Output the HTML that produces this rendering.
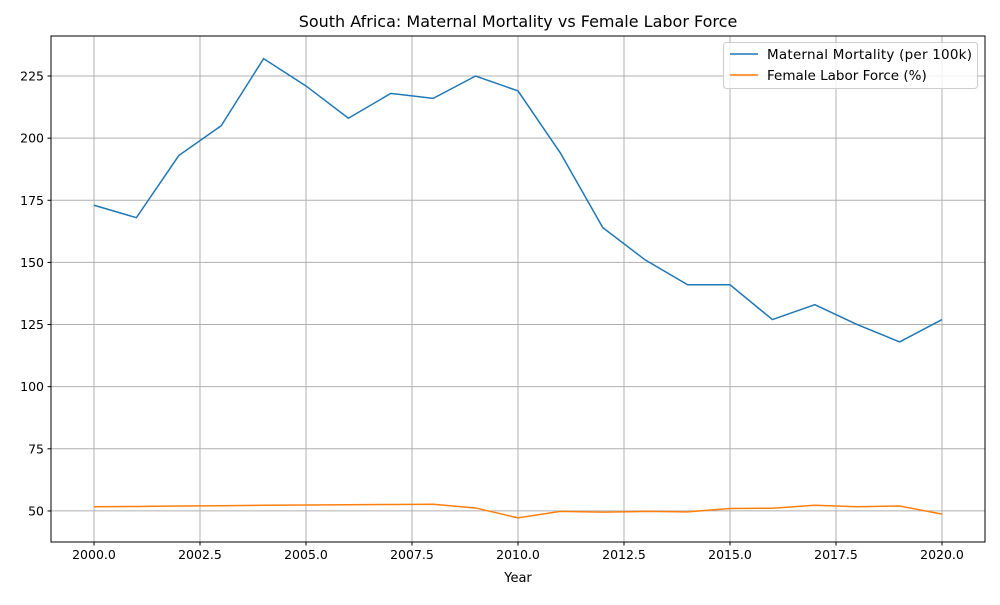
<!DOCTYPE html>
<html><head><meta charset="utf-8"><style>
body{margin:0;background:#fff;font-family:"Liberation Sans","DejaVu Sans",sans-serif;}
svg text{font-family:"DejaVu Sans","Liberation Sans",sans-serif;}
</style></head><body>
<svg id="chart" width="1000" height="600">
<text x="518" y="27" font-size="16" text-anchor="middle">South Africa: Maternal Mortality vs Female Labor Force</text>
<g id="grid"></g>
<g id="series"></g>
<rect x="51" y="36" width="934" height="506" fill="none" stroke="#000" stroke-width="1"/>
<g id="ticks"></g>
<text x="518" y="582" font-size="13" text-anchor="middle">Year</text>
<g>
<rect x="723.5" y="42.5" width="254" height="46" rx="3" fill="#fff" fill-opacity="0.8" stroke="#ccc"/>
<line x1="730" y1="54" x2="758" y2="54" stroke="#1f77b4" stroke-width="1.5"/>
<text x="767" y="59" font-size="13.5" textLength="205">Maternal Mortality (per 100k)</text>
<line x1="730" y1="75" x2="758" y2="75" stroke="#ff7f0e" stroke-width="1.5"/>
<text x="767" y="80" font-size="13.5">Female Labor Force (%)</text>
</g>
</svg>
<script>
const years=[2000,2001,2002,2003,2004,2005,2006,2007,2008,2009,2010,2011,2012,2013,2014,2015,2016,2017,2018,2019,2020];
const mortality=[173,168,193,205,232,221,208,218,216,225,219,194,164,151,141,141,127,133,125,118,127];
const labor=[51.7,51.8,52.0,52.1,52.3,52.4,52.5,52.6,52.7,51.2,47.2,49.8,49.5,49.8,49.6,51.0,51.1,52.3,51.7,52.0,48.7];
const xTicks=[2000,2002.5,2005,2007.5,2010,2012.5,2015,2017.5,2020];
const yTicks=[50,75,100,125,150,175,200,225];
const NS="http://www.w3.org/2000/svg";
const X0=1998.986,X1=2021.014,Y0=37.5,Y1=241.1,L=51,R=985,T=36,B=542;
const sx=v=>L+(v-X0)/(X1-X0)*(R-L);
const sy=v=>B-(v-Y0)/(Y1-Y0)*(B-T);
function mk(tag,attrs,parent){const e=document.createElementNS(NS,tag);for(const k in attrs)e.setAttribute(k,attrs[k]);parent.appendChild(e);return e;}
const grid=document.getElementById('grid'),ticks=document.getElementById('ticks'),series=document.getElementById('series');
xTicks.forEach(t=>{const x=sx(t);
 const g=mk('line',{x1:x,x2:x,y1:T,y2:B,stroke:'#b0b0b0','stroke-width':1},grid);
 
 
 mk('line',{x1:x,x2:x,y1:B,y2:B+3.5,stroke:'#000'},ticks);
 const tx=mk('text',{x:x,y:B+17,'font-size':12.5,'text-anchor':'middle'},ticks);tx.textContent=t.toFixed(1);
 
 
});
yTicks.forEach(t=>{const y=sy(t);
 const g=mk('line',{x1:L,x2:R,y1:y,y2:y,stroke:'#b0b0b0','stroke-width':1},grid);
 
 
 mk('line',{x1:L-3.5,x2:L,y1:y,y2:y,stroke:'#000'},ticks);
 const tx=mk('text',{x:L-7,y:y+4.5,'font-size':12.5,'text-anchor':'end'},ticks);tx.textContent=t;
 
 
});
function line(vals,color,name){
 const p=mk('polyline',{points:vals.map((v,i)=>sx(years[i])+','+sy(v)).join(' '),fill:'none',stroke:color,'stroke-width':1.5},series);
 
 
}
line(mortality,'#1f77b4','mortality-line');
line(labor,'#ff7f0e','labor-line');
</script>
</body></html>
